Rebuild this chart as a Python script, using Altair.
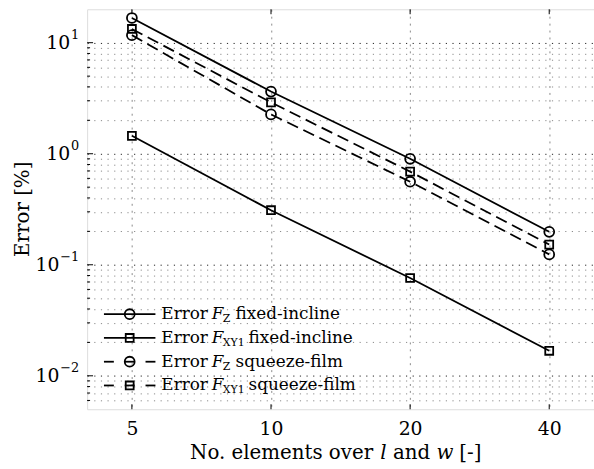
import altair as alt
import pandas as pd

# ---------------- data ----------------
n_elements = [5, 10, 20, 40]
err_fz_fixed = [16.7, 3.63, 0.90, 0.198]
err_fxy_fixed = [1.45, 0.31, 0.076, 0.0168]
err_fz_squeeze = [11.7, 2.26, 0.56, 0.124]
err_fxy_squeeze = [13.3, 2.9, 0.69, 0.152]

series_keys = ["fz_fixed", "fxy_fixed", "fz_squeeze", "fxy_squeeze"]
series_values = [err_fz_fixed, err_fxy_fixed, err_fz_squeeze, err_fxy_squeeze]
series_marker = ["circle", "square", "circle", "square"]
series_style = ["solid", "solid", "dashed", "dashed"]
legend_sub = ["Z", "XY1", "Z", "XY1"]
legend_tail = ["fixed-incline", "fixed-incline", "squeeze-film", "squeeze-film"]

x_tick_values = [5, 10, 20, 40]
y_decades = [0.01, 0.1, 1, 10]
y_decade_base = ["10", "10", "10", "10"]
y_decade_exp = ["−2", "−1", "0", "1"]
x_title_parts = ["No. elements over", "l", "and", "w", "[-]"]
x_title_italic = [False, True, False, True, False]
y_title = "Error [%]"

# ---------------- layout / style ----------------
FONT = "DejaVu Serif"
W, H = 512, 404
LEFT, TOP = 88, 7
x_domain = [4, 50]
y_domain = [0.005, 20]
LW = 1.8

y_grid = []
for d in [0.001, 0.01, 0.1, 1, 10]:
    for k in range(1, 10):
        v = float(f"{k * d:.6g}")
        if y_domain[0] < v < y_domain[1]:
            y_grid.append(v)
y_minor = [v for v in y_grid if v not in y_decades]

rows = []
for key, vals, mk, st in zip(series_keys, series_values, series_marker, series_style):
    for n, e in zip(n_elements, vals):
        rows.append({"n": n, "err": e, "series": key, "marker": mk, "style": st,
                     "msize": 100 if mk == "circle" else 64})
df = pd.DataFrame(rows)

xscale = alt.Scale(type="log", domain=x_domain, nice=False)
yscale = alt.Scale(type="log", domain=y_domain, nice=False)

major_test = " || ".join(f"datum.value === {v}" for v in y_decades)

xaxis = alt.Axis(values=x_tick_values, title=None, grid=True, gridDash=[2, 5],
                 gridColor="#8a8a8a", gridWidth=1, ticks=False, domain=False,
                 labelFont=FONT, labelFontSize=19, labelColor="black", labelPadding=11,
                 labelOverlap=False, labelFlush=False)
yaxis = alt.Axis(values=y_grid, title=None, grid=True, gridDash=[1.2, 5.5],
                 gridColor={"condition": {"test": major_test, "value": "#222222"}, "value": "#8a8a8a"},
                 gridWidth=1, ticks=False, domain=False, labels=False)

X = alt.X("n:Q", scale=xscale, axis=xaxis)
Y = alt.Y("err:Q", scale=yscale, axis=yaxis)

layers = []

solid = alt.Chart(df[df["style"] == "solid"]).mark_line(color="black", strokeWidth=LW).encode(
    x=X, y=Y, detail="series:N")
dashed = alt.Chart(df[df["style"] == "dashed"]).mark_line(color="black", strokeWidth=LW,
                                                          strokeDash=[12, 6]).encode(
    x=X, y=Y, detail="series:N")
points = alt.Chart(df).mark_point(filled=False, color="black", strokeWidth=LW, opacity=1).encode(
    x=X, y=Y,
    shape=alt.Shape("marker:N", scale=None, legend=None),
    size=alt.Size("msize:Q", scale=None, legend=None))
layers += [solid, dashed, points]

# inward ticks
ytick_major = alt.Chart(pd.DataFrame({"err": y_decades})).mark_rule(color="black", strokeWidth=1).encode(
    y=Y, x=alt.value(0), x2=alt.value(6))
ytick_minor = alt.Chart(pd.DataFrame({"err": y_minor})).mark_rule(color="black", strokeWidth=1).encode(
    y=Y, x=alt.value(0), x2=alt.value(3))
xtick_bottom = alt.Chart(pd.DataFrame({"n": x_tick_values})).mark_rule(color="black", strokeWidth=1).encode(
    x=X, y=alt.value(H - 5), y2=alt.value(H))
xtick_top = alt.Chart(pd.DataFrame({"n": x_tick_values})).mark_rule(color="black", strokeWidth=1).encode(
    x=X, y=alt.value(0), y2=alt.value(5))
layers += [ytick_major, ytick_minor, xtick_bottom, xtick_top]

# y tick labels: "10" with superscript exponent
for v, base, ex in zip(y_decades, y_decade_base, y_decade_exp):
    sup_w = 8 if len(ex) == 1 else 19
    right = 80 - LEFT
    layers.append(alt.Chart(pd.DataFrame({"err": [v], "t": [ex]})).mark_text(
        font=FONT, fontSize=13, align="right", baseline="middle", color="black", dy=-8).encode(
        y=Y, x=alt.value(right), text="t:N"))
    layers.append(alt.Chart(pd.DataFrame({"err": [v], "t": [base]})).mark_text(
        font=FONT, fontSize=19, align="right", baseline="middle", color="black", dy=0).encode(
        y=Y, x=alt.value(right - sup_w - 1), text="t:N"))

# custom legend
one = pd.DataFrame({"a": [0]})
leg_rows_y = [315, 339, 363, 387]
sym_x0, sym_x1, sym_c = 105, 157, 131
for i in range(4):
    yy = leg_rows_y[i] - TOP
    if series_style[i] == "solid":
        segs = [(sym_x0, sym_x1)]
    else:
        segs = [(sym_x0, sym_x0 + 10), (sym_c - 5, sym_c + 5), (sym_x1 - 10, sym_x1)]
    for a, b in segs:
        layers.append(alt.Chart(one).mark_rule(color="black", strokeWidth=LW).encode(
            x=alt.value(a - LEFT), x2=alt.value(b - LEFT), y=alt.value(yy)))
    layers.append(alt.Chart(one).mark_point(
        filled=False, color="black", strokeWidth=LW, opacity=1,
        shape=series_marker[i], size=100 if series_marker[i] == "circle" else 64).encode(
        x=alt.value(sym_c - LEFT), y=alt.value(yy)))
    x_err = 163
    x_f = 214
    x_sub = 225
    x_tail = 238 if legend_sub[i] == "Z" else 251
    pieces = [("Error", x_err, 17, "normal", 0),
              ("F", x_f, 17, "italic", 0),
              (legend_sub[i], x_sub, 11, "normal", 5),
              (legend_tail[i], x_tail, 17, "normal", 0)]
    for txt, px, fs, fst, dy in pieces:
        layers.append(alt.Chart(pd.DataFrame({"t": [txt]})).mark_text(
            font=FONT, fontSize=fs, fontStyle=fst, align="left", baseline="middle",
            color="black", dy=dy).encode(
            x=alt.value(px - LEFT), y=alt.value(yy), text="t:N"))

# axis titles
x_title_pos = [192, 384, 397, 441, 464]
for txt, it, px in zip(x_title_parts, x_title_italic, x_title_pos):
    layers.append(alt.Chart(pd.DataFrame({"t": [txt]})).mark_text(
        font=FONT, fontSize=20, fontStyle="italic" if it else "normal",
        align="left", baseline="alphabetic", color="black").encode(
        x=alt.value(px - LEFT), y=alt.value(461 - TOP), text="t:N"))
layers.append(alt.Chart(pd.DataFrame({"t": [y_title]})).mark_text(
    font=FONT, fontSize=20, angle=270, align="center", baseline="middle", color="black").encode(
    x=alt.value(23 - LEFT), y=alt.value(209 - TOP), text="t:N"))

chart = alt.layer(*layers).properties(
    width=W, height=H,
    autosize=alt.AutoSizeParams(type="none"),
    padding={"left": LEFT, "top": TOP, "right": 0, "bottom": 469 - TOP - H},
).configure_view(stroke="black", strokeWidth=1.5).configure(background="white")

chart.save("out.html", embed_options={"renderer": "svg", "actions": False})
